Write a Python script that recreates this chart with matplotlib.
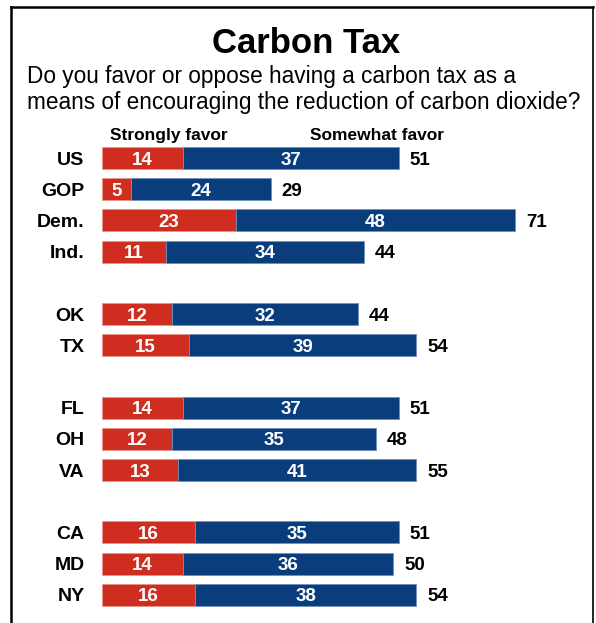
import matplotlib.pyplot as plt
from matplotlib.lines import Line2D

# data
names = ['US', 'GOP', 'Dem.', 'Ind.', 'OK', 'TX', 'FL', 'OH', 'VA', 'CA', 'MD', 'NY']
strongly = [14, 5, 23, 11, 12, 15, 14, 12, 13, 16, 14, 16]
somewhat = [37, 24, 48, 34, 32, 39, 37, 35, 41, 35, 36, 38]
totals = [51, 29, 71, 44, 44, 54, 51, 48, 55, 51, 50, 54]  # as printed (rounded)
rows = [0, 1, 2, 3, 5, 6, 8, 9, 10, 12, 13, 14]

RED = '#CF2D1F'
BLUE = '#0A3D7C'

plt.rcParams['font.family'] = ['Liberation Sans', 'DejaVu Sans']

W, H = 596, 623
fig = plt.figure(figsize=(W / 100, H / 100), dpi=100)


def fx(x):
    return x / W


def fy(y):
    return 1 - y / H


# axes placed in pixel terms
ax = fig.add_axes([fx(102), 0, (593 - 102) / W, (623 - 142) / H])
ax.set_xlim(0, (593 - 102) / 5.82)
ax.set_ylim((623 - 158) / 31.2, (142 - 158) / 31.2)
ax.axis('off')

ax.barh(rows, strongly, height=0.7, color=RED, edgecolor='#e89488', linewidth=0.6)
ax.barh(rows, somewhat, left=strongly, height=0.7, color=BLUE, edgecolor='#6f8fbf', linewidth=0.6)

dy = 0.07  # nudge text down so it sits centred on the bar
for r, n, s, w, t in zip(rows, names, strongly, somewhat, totals):
    ax.text(-3.0, r + dy, n, ha='right', va='center', fontsize=14, weight='bold', color='black')
    ax.text(s / 2, r + dy, str(s), ha='center', va='center', fontsize=13.5, weight='bold', color='white')
    ax.text(s + w / 2, r + dy, str(w), ha='center', va='center', fontsize=13.5, weight='bold', color='white')
    ax.text(s + w + 1.9, r + dy, str(t), ha='left', va='center', fontsize=13.5, weight='bold', color='black')

# titles
fig.text(fx(306), fy(53), 'Carbon Tax', ha='center', va='baseline', fontsize=25, weight='bold')
fig.text(fx(27), fy(83), 'Do you favor or oppose having a carbon tax as a',
         ha='left', va='baseline', fontsize=16.3)
fig.text(fx(27), fy(109), 'means of encouraging the reduction of carbon dioxide?',
         ha='left', va='baseline', fontsize=16.3)
fig.text(fx(110), fy(140), 'Strongly favor', ha='left', va='baseline', fontsize=12.5, weight='bold')
fig.text(fx(310), fy(140), 'Somewhat favor', ha='left', va='baseline', fontsize=12.5, weight='bold')

# frame around the graphic (no bottom edge)
fig.add_artist(Line2D([fx(11), fx(11)], [fy(7), 0], color='black', lw=1.8))
fig.add_artist(Line2D([fx(11), fx(593)], [fy(7), fy(7)], color='black', lw=1.8))
fig.add_artist(Line2D([fx(593), fx(593)], [fy(7), 0], color='black', lw=1.2))

fig.savefig('out.png', dpi=100)
